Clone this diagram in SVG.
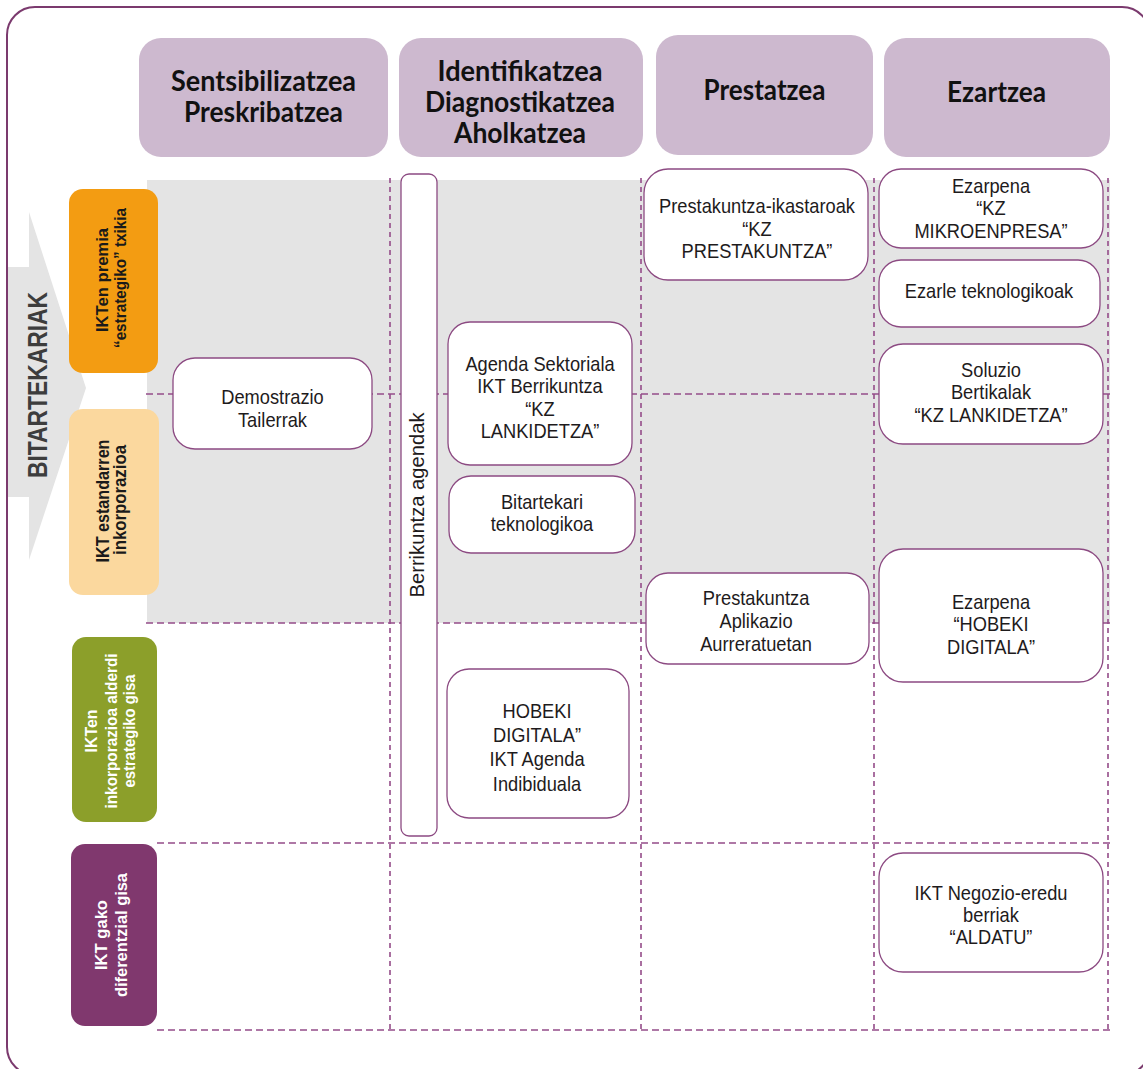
<svg xmlns="http://www.w3.org/2000/svg" width="1143" height="1069" viewBox="0 0 1143 1069">
<style>
.frame{fill:none;stroke:#7b3a6e;stroke-width:2}
.hdr{fill:#cdb9cf}
.ht{font-family:Lato,"Liberation Sans",sans-serif;font-weight:700;font-size:28px;fill:#111;text-anchor:middle}
.dh{stroke:#944c89;stroke-width:1.6;stroke-dasharray:7 4;fill:none}
.dv{stroke:#944c89;stroke-width:1.6;stroke-dasharray:5 4;fill:none}
.box{fill:#fff;stroke:#8c4a82;stroke-width:1.3}
.n{font-family:"Liberation Sans",Arial,sans-serif;font-size:21px;fill:#1e1b1c;text-anchor:middle}
.rl{font-family:"Liberation Sans",Arial,sans-serif;text-anchor:middle;font-weight:700}
</style>
<rect class="frame" x="7" y="7" width="1143" height="1068" rx="28"/>
<!-- gray band -->
<rect x="147" y="180" width="963" height="443" fill="#e4e4e4"/>
<!-- arrow -->
<polygon points="8,267 29,267 29,212 86,388 29,560 29,497 8,497" fill="#e4e4e4"/>
<line x1="7" y1="240" x2="7" y2="520" stroke="#7b3a6e" stroke-width="2"/>
<text class="rl" transform="translate(47,385) rotate(-90)" font-size="28" fill="#3d3d3d" textLength="186" lengthAdjust="spacingAndGlyphs">BITARTEKARIAK</text>

<!-- grid (connectors) -->
<g id="grid">
<line class="dh" x1="146" y1="394" x2="1110" y2="394"/>
<line class="dh" x1="146" y1="623" x2="1110" y2="623"/>
<line class="dh" x1="157" y1="843" x2="1110" y2="843"/>
<line class="dh" x1="157" y1="1030" x2="1110" y2="1030"/>
<line class="dv" x1="390" y1="178" x2="390" y2="1030"/>
<line class="dv" x1="641" y1="178" x2="641" y2="1030"/>
<line class="dv" x1="874" y1="178" x2="874" y2="1030"/>
<line class="dv" x1="1108" y1="178" x2="1108" y2="1030"/>
</g>

<!-- headers -->
<g id="h1"><rect class="hdr" x="139" y="38" width="249" height="119" rx="22"/>
<text class="ht"><tspan x="263.5" y="91" textLength="185" lengthAdjust="spacingAndGlyphs">Sentsibilizatzea</tspan><tspan x="263.5" y="122" textLength="159" lengthAdjust="spacingAndGlyphs">Preskribatzea</tspan></text></g>
<g id="h2"><rect class="hdr" x="399" y="38" width="244" height="119" rx="22"/>
<text class="ht"><tspan x="520" y="81" textLength="165" lengthAdjust="spacingAndGlyphs">Identifikatzea</tspan><tspan x="520" y="112" textLength="190" lengthAdjust="spacingAndGlyphs">Diagnostikatzea</tspan><tspan x="520" y="143" textLength="132" lengthAdjust="spacingAndGlyphs">Aholkatzea</tspan></text></g>
<g id="h3"><rect class="hdr" x="656" y="35" width="217" height="120" rx="22"/>
<text class="ht" x="764.5" y="100" textLength="122" lengthAdjust="spacingAndGlyphs">Prestatzea</text></g>
<g id="h4"><rect class="hdr" x="884" y="38" width="226" height="119" rx="22"/>
<text class="ht" x="996.5" y="102" textLength="99" lengthAdjust="spacingAndGlyphs">Ezartzea</text></g>

<!-- row labels -->
<g id="r1"><rect x="69" y="189" width="89" height="184" rx="14" fill="#f39c12"/>
<text class="rl" transform="translate(108,280) rotate(-90)" font-size="17" fill="#1a1a1a" textLength="104" lengthAdjust="spacingAndGlyphs">IKTen premia</text>
<text class="rl" transform="translate(126,278) rotate(-90)" font-size="17" fill="#1a1a1a" textLength="140" lengthAdjust="spacingAndGlyphs">“estrategiko” txikia</text></g>
<g id="r2"><rect x="69" y="409" width="90" height="186" rx="14" fill="#fbd89e"/>
<text class="rl" transform="translate(109,501) rotate(-90)" font-size="18" fill="#1a1a1a" textLength="123" lengthAdjust="spacingAndGlyphs">IKT estandarren</text>
<text class="rl" transform="translate(126,500) rotate(-90)" font-size="18" fill="#1a1a1a" textLength="110" lengthAdjust="spacingAndGlyphs">inkorporazioa</text></g>
<g id="r3"><rect x="72" y="637" width="85" height="185" rx="14" fill="#8c9f2a"/>
<text class="rl" transform="translate(97,731) rotate(-90)" font-size="16" fill="#fff" textLength="43" lengthAdjust="spacingAndGlyphs">IKTen</text>
<text class="rl" transform="translate(117,731) rotate(-90)" font-size="16" fill="#fff" textLength="155" lengthAdjust="spacingAndGlyphs">inkorporazioa alderdi</text>
<text class="rl" transform="translate(135,731) rotate(-90)" font-size="16" fill="#fff" textLength="113" lengthAdjust="spacingAndGlyphs">estrategiko gisa</text></g>
<g id="r4"><rect x="71" y="844" width="86" height="182" rx="14" fill="#80386e"/>
<text class="rl" transform="translate(107,935) rotate(-90)" font-size="17" fill="#fff" textLength="70" lengthAdjust="spacingAndGlyphs">IKT gako</text>
<text class="rl" transform="translate(127,935) rotate(-90)" font-size="17" fill="#fff" textLength="124" lengthAdjust="spacingAndGlyphs">diferentzial gisa</text></g>

<!-- Berrikuntza agendak bar -->
<g id="berrikuntza"><rect class="box" x="401" y="174" width="36" height="662" rx="8"/>
<text transform="translate(424,505) rotate(-90)" font-family="Liberation Sans, Arial, sans-serif" text-anchor="middle" font-size="21" fill="#1e1b1c" textLength="185" lengthAdjust="spacingAndGlyphs">Berrikuntza agendak</text></g>

<!-- nodes -->
<g id="demostrazio"><rect class="box" x="173" y="358" width="199" height="91" rx="22"/>
<text class="n" transform="translate(272.5,0) scale(0.87,1)"><tspan x="0" y="404">Demostrazio</tspan><tspan x="0" y="427">Tailerrak</tspan></text></g>

<g id="agenda"><rect class="box" x="448" y="322" width="184" height="143" rx="22"/>
<text class="n" transform="translate(540,0) scale(0.87,1)"><tspan x="0" y="371">Agenda Sektoriala</tspan><tspan x="0" y="393">IKT Berrikuntza</tspan><tspan x="0" y="416">“KZ</tspan><tspan x="0" y="438">LANKIDETZA”</tspan></text></g>

<g id="bitartekari"><rect class="box" x="449" y="476" width="186" height="77" rx="22"/>
<text class="n" transform="translate(542,0) scale(0.87,1)"><tspan x="0" y="509">Bitartekari</tspan><tspan x="0" y="531">teknologikoa</tspan></text></g>

<g id="hobeki-agenda"><rect class="box" x="447" y="669" width="182" height="149" rx="22"/>
<text class="n" transform="translate(537,0) scale(0.87,1)"><tspan x="0" y="718">HOBEKI</tspan><tspan x="0" y="742">DIGITALA”</tspan><tspan x="0" y="766">IKT Agenda</tspan><tspan x="0" y="791">Indibiduala</tspan></text></g>

<g id="prestakuntza-ikastaroak"><rect class="box" x="644" y="169" width="224" height="111" rx="24"/>
<text class="n" transform="translate(757,0) scale(0.87,1)"><tspan x="0" y="213">Prestakuntza-ikastaroak</tspan><tspan x="0" y="236">“KZ</tspan><tspan x="0" y="258">PRESTAKUNTZA”</tspan></text></g>

<g id="prestakuntza-aplikazio"><rect class="box" x="646" y="573" width="223" height="91" rx="22"/>
<text class="n" transform="translate(756,0) scale(0.87,1)"><tspan x="0" y="605">Prestakuntza</tspan><tspan x="0" y="628">Aplikazio</tspan><tspan x="0" y="651">Aurreratuetan</tspan></text></g>

<g id="ezarpena-kz"><rect class="box" x="879" y="169" width="224" height="79" rx="22"/>
<text class="n" transform="translate(991,0) scale(0.87,1)"><tspan x="0" y="193">Ezarpena</tspan><tspan x="0" y="215.5">“KZ</tspan><tspan x="0" y="238">MIKROENPRESA”</tspan></text></g>

<g id="ezarle"><rect class="box" x="879" y="260" width="221" height="67" rx="22"/>
<text class="n" x="0" y="298" transform="translate(989,0) scale(0.87,1)">Ezarle teknologikoak</text></g>

<g id="soluzio"><rect class="box" x="879" y="344" width="224" height="100" rx="24"/>
<text class="n" transform="translate(991,0) scale(0.87,1)"><tspan x="0" y="377">Soluzio</tspan><tspan x="0" y="399.5">Bertikalak</tspan><tspan x="0" y="422">“KZ LANKIDETZA”</tspan></text></g>

<g id="ezarpena-hobeki"><rect class="box" x="879" y="549" width="224" height="133" rx="24"/>
<text class="n" transform="translate(991,0) scale(0.87,1)"><tspan x="0" y="609">Ezarpena</tspan><tspan x="0" y="631">“HOBEKI</tspan><tspan x="0" y="654">DIGITALA”</tspan></text></g>

<g id="aldatu"><rect class="box" x="879" y="853" width="224" height="119" rx="24"/>
<text class="n" transform="translate(991,0) scale(0.87,1)"><tspan x="0" y="900">IKT Negozio-eredu</tspan><tspan x="0" y="922">berriak</tspan><tspan x="0" y="944">“ALDATU”</tspan></text></g>
</svg>
